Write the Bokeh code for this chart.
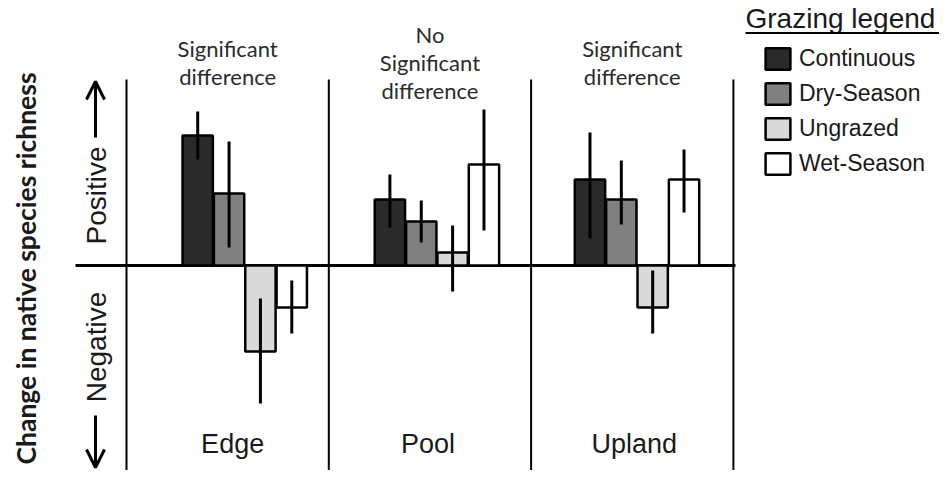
import math
from bokeh.plotting import figure
from bokeh.models import Range1d, Arrow, OpenHead, Legend, LegendItem, ColumnDataSource
from bokeh.core.properties import value
from bokeh.embed import file_html
from bokeh.resources import INLINE

# ---------------- data ----------------
sites = ["Edge", "Pool", "Upland"]
annotations = ["Significant\ndifference", "No\nSignificant\ndifference", "Significant\ndifference"]
series = ["Continuous", "Dry-Season", "Ungrazed", "Wet-Season"]

continuous = [13.0, 6.6, 8.6]
continuous_lo = [10.6, 3.8, 2.7]
continuous_hi = [15.4, 9.1, 13.3]

dry_season = [7.2, 4.4, 6.6]
dry_season_lo = [1.8, 2.3, 4.1]
dry_season_hi = [12.4, 6.5, 10.5]

ungrazed = [-8.6, 1.3, -4.2]
ungrazed_lo = [-13.8, -2.6, -6.8]
ungrazed_hi = [-3.3, 4.0, -0.5]

wet_season = [-4.2, 10.1, 8.6]
wet_season_lo = [-6.8, 3.5, 5.3]
wet_season_hi = [-1.5, 15.6, 11.6]

y_label = "Change in native species richness"
positive_label = "Positive"
negative_label = "Negative"
legend_title = "Grazing legend"

# ---------------- layout ----------------
W, H = 939, 470
X_ORIGIN, PX_PER_X = 126.0, 202.3   # px of first divider, px per panel
Y_ORIGIN, PX_PER_Y = 265.0, 10.0    # px of zero line, px per unit


def sx(px):
    return (px - X_ORIGIN) / PX_PER_X


def sy(py):
    return (Y_ORIGIN - py) / PX_PER_Y


def mid(baseline_px, size_px):
    # anchor for text_baseline="middle" from a desired baseline position
    return baseline_px - 0.36 * size_px


BAR_W = 0.15
BAR_STEP = 0.155
group_start = [0.352, 0.302, 0.291]
site_label_shift = [5, -2, 2]

fills = ["#2a2a2a", "#808080", "#d9d9d9", "#ffffff"]
TEXT_COLOR = "#1a1a1a"

p = figure(width=W, height=H,
           x_range=Range1d(sx(0), sx(W)),
           y_range=Range1d(sy(H), sy(0)),
           output_backend="svg", toolbar_location=None,
           x_axis_location=None, y_axis_location=None,
           min_border=0, tools="")
p.grid.visible = False
p.outline_line_color = None
p.background_fill_color = "white"
p.border_fill_color = "white"

n_sites = len(sites)

# panel dividers
p.segment(x0=list(range(n_sites + 1)), y0=[sy(79)] * (n_sites + 1),
          x1=list(range(n_sites + 1)), y1=[sy(H)] * (n_sites + 1),
          line_color="black", line_width=2)

# zero line
p.segment(x0=[sx(75)], y0=[0], x1=[sx(735)], y1=[0], line_color="black", line_width=3)

# bars + error bars
all_vals = [(continuous, continuous_lo, continuous_hi),
            (dry_season, dry_season_lo, dry_season_hi),
            (ungrazed, ungrazed_lo, ungrazed_hi),
            (wet_season, wet_season_lo, wet_season_hi)]
bar_renderers = []
for j, (vals, lo, hi) in enumerate(all_vals):
    xs = [i + group_start[i] + j * BAR_STEP for i in range(n_sites)]
    src = ColumnDataSource(dict(x=xs, top=vals, lo=lo, hi=hi))
    r = p.vbar(x="x", top="top", bottom=0, width=BAR_W, source=src,
               fill_color=fills[j], line_color="black", line_width=2.5)
    bar_renderers.append(r)
for j, (vals, lo, hi) in enumerate(all_vals):
    xs = [i + group_start[i] + j * BAR_STEP for i in range(n_sites)]
    src = ColumnDataSource(dict(x=xs, lo=lo, hi=hi))
    p.segment(x0="x", y0="lo", x1="x", y1="hi", source=src,
              line_color="black", line_width=3)

# annotation texts
ANN_SIZE = 22
ax, ay, at = [], [], []
for i, a in enumerate(annotations):
    lines = a.split("\n")
    n = len(lines)
    for k, line in enumerate(lines):
        ax.append(i + 0.5)
        ay.append(sy(mid(69.5 + (k - (n - 1) / 2) * 28, ANN_SIZE)))
        at.append(line)
p.text(x=ax, y=ay, text=at, text_align="center", text_baseline="middle",
       text_font=value("Lato"), text_font_size=f"{ANN_SIZE}px", text_color="#2b2b2b")

# site labels
SITE_SIZE = 27
p.text(x=[i + 0.5 + site_label_shift[i] / PX_PER_X for i in range(n_sites)],
       y=[sy(mid(453, SITE_SIZE))] * n_sites, text=sites, text_align="center",
       text_baseline="middle", text_font=value("Liberation Sans"),
       text_font_size=f"{SITE_SIZE}px", text_color=TEXT_COLOR)

# y label (rotated; baseline lies on the right)
YL_SIZE = 26.5
p.text(x=[sx(mid(35, YL_SIZE))], y=[sy(268)], text=[y_label], angle=math.pi / 2,
       text_align="center", text_baseline="middle",
       text_font=value("Lato"), text_font_style="bold", text_font_size=f"{YL_SIZE}px",
       text_color=TEXT_COLOR)

# positive / negative
PN_SIZE = 28
p.text(x=[sx(mid(106, PN_SIZE))] * 2, y=[sy(195), sy(346.5)],
       text=[positive_label, negative_label],
       angle=math.pi / 2, text_align="center", text_baseline="middle",
       text_font=value("Liberation Sans"), text_font_size=f"{PN_SIZE}px", text_color=TEXT_COLOR)

p.add_layout(Arrow(x_start=sx(95), y_start=sy(137), x_end=sx(95), y_end=sy(81),
                   end=OpenHead(size=18, line_width=3), line_width=3))
p.add_layout(Arrow(x_start=sx(95), y_start=sy(415), x_end=sx(95), y_end=sy(467),
                   end=OpenHead(size=18, line_width=3), line_width=3))

# legend title with underline
LT_SIZE = 28
p.text(x=[sx(745)], y=[sy(mid(28, LT_SIZE))], text=[legend_title], text_align="left",
       text_baseline="middle", text_font=value("Liberation Sans"),
       text_font_size=f"{LT_SIZE}px", text_color=TEXT_COLOR)
p.segment(x0=[sx(745)], y0=[sy(32.5)], x1=[sx(944)], y1=[sy(32.5)],
          line_color="black", line_width=2)

# legend
GLYPH_W, GLYPH_H, SPACING = 31, 27, 8
leg_h = len(series) * GLYPH_H + (len(series) - 1) * SPACING
leg_top = 45.3
legend = Legend(items=[LegendItem(label=s, renderers=[r]) for s, r in zip(series, bar_renderers)],
                location=(762, H - leg_top - leg_h),
                glyph_width=GLYPH_W, glyph_height=GLYPH_H, label_height=GLYPH_H,
                spacing=SPACING, label_standoff=6, padding=0, margin=0,
                border_line_color=None, background_fill_alpha=0,
                label_text_font="Liberation Sans", label_text_font_size="23px",
                label_text_color=TEXT_COLOR)
p.add_layout(legend)

open("out.html", "w").write(file_html(p, INLINE))
